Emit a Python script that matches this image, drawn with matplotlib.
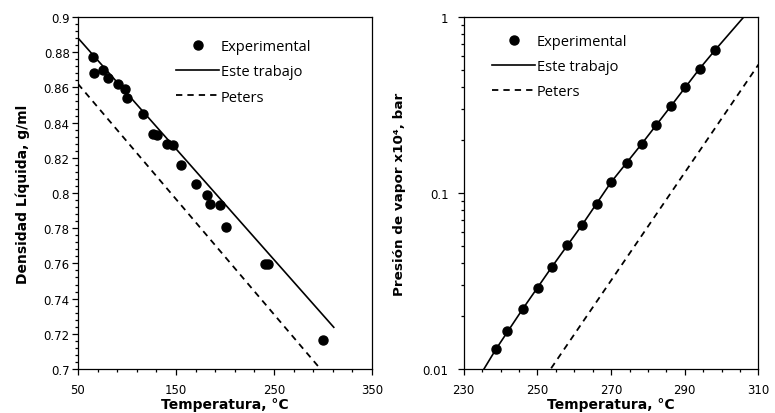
import numpy as np
import matplotlib
matplotlib.use("Agg")
import matplotlib.pyplot as plt
from matplotlib.ticker import MultipleLocator, LogLocator, NullFormatter, FormatStrFormatter

# Densidad liquida vs temperatura
t_dens_exp = [65.3, 66.0, 75.5, 80.2, 90.8, 98.2, 100.3, 115.9, 126.8, 130.2, 140.4,
              147.2, 154.7, 170.3, 181.2, 185.2, 195.4, 201.5, 240.6, 244.0, 300.1]
dens_exp = [0.877, 0.868, 0.870, 0.8655, 0.862, 0.859, 0.854, 0.845, 0.8335, 0.833, 0.828,
            0.827, 0.816, 0.805, 0.799, 0.794, 0.7934, 0.7805, 0.7597, 0.7597, 0.7167]
t_dens_este = [50, 311]
dens_este = [0.8881, 0.7237]
t_dens_peters = [50, 300]
dens_peters = [0.862, 0.6983]

# Presion de vapor vs temperatura
t_pv_exp = [238.8, 241.8, 246.0, 250.1, 254.0, 258.0, 262.1, 266.1, 270.0, 274.3,
            278.3, 282.2, 286.2, 290.1, 294.0, 298.2]
pv_exp = [0.0130, 0.0165, 0.0219, 0.0290, 0.0382, 0.0505, 0.0657, 0.0870, 0.1152, 0.148,
          0.190, 0.243, 0.311, 0.401, 0.508, 0.648]
t_pv_este = [235.5, 238.8, 246.0, 254.0, 262.1, 270.0, 278.3, 286.2, 294.0, 298.2, 306.0, 308.0]
pv_este = [0.0100, 0.0130, 0.0219, 0.0382, 0.0657, 0.1152, 0.190, 0.311, 0.508, 0.648, 1.0, 1.12]
t_pv_peters = [252, 310]
pv_peters = [0.00893, 0.537]

plt.rcParams['font.family'] = 'DejaVu Sans'
fig = plt.figure(figsize=(7.75, 4.14), dpi=100)
ax1 = fig.add_axes([0.1006, 0.1063, 0.3794, 0.8502])
ax2 = fig.add_axes([0.5983, 0.1063, 0.3804, 0.8502])

dash = (0, (3.5, 2.8))
leg_font = {'family': 'Open Sans', 'size': 10.5}

def estilo(ax, ypad):
    for s in ax.spines.values():
        s.set_linewidth(0.9)
    ax.tick_params(which='major', direction='out', length=4, width=0.9, labelsize=8.5)
    ax.tick_params(which='minor', direction='out', length=2.5, width=0.9)
    ax.tick_params(axis='x', which='major', pad=6)
    ax.tick_params(axis='y', which='major', pad=ypad)

# panel izquierdo
ax1.plot(t_dens_exp, dens_exp, 'o', color='black', ms=6.5, label='Experimental')
ax1.plot(t_dens_este, dens_este, '-', color='black', lw=1.2, label='Este trabajo')
ax1.plot(t_dens_peters, dens_peters, linestyle=dash, color='black', lw=1.3, label='Peters')
ax1.set_xlim(50, 350)
ax1.set_ylim(0.7, 0.9)
ax1.set_xticks(np.arange(50, 351, 100))
ax1.set_xticks(np.arange(50, 351, 20), minor=True)
ax1.yaxis.set_major_locator(MultipleLocator(0.02))
ax1.yaxis.set_minor_locator(MultipleLocator(0.004))
ax1.yaxis.set_major_formatter(FormatStrFormatter('%g'))
ax1.set_xlabel('Temperatura, °C', fontsize=10, fontweight='bold', labelpad=1)
ax1.set_ylabel('Densidad Líquida, g/ml', fontsize=10, fontweight='bold', labelpad=10)
estilo(ax1, 2)
ax1.legend(loc='upper left', bbox_to_anchor=(0.334, 0.937), frameon=False, prop=leg_font,
           handlelength=2.95, handletextpad=0.1, labelspacing=0.7, borderpad=0, borderaxespad=0)

# panel derecho
ax2.semilogy(t_pv_exp, pv_exp, 'o', color='black', ms=6.5, label='Experimental')
ax2.semilogy(t_pv_este, pv_este, '-', color='black', lw=1.2, label='Este trabajo')
ax2.semilogy(t_pv_peters, pv_peters, linestyle=dash, color='black', lw=1.3, label='Peters')
ax2.set_xlim(230, 310)
ax2.set_ylim(0.01, 1)
ax2.set_xticks(np.arange(230, 311, 20))
ax2.set_xticks(np.arange(230, 311, 5), minor=True)
ax2.set_yticks([0.01, 0.1, 1], labels=['0.01', '0.1', '1'])
ax2.yaxis.set_minor_locator(LogLocator(base=10, subs=np.arange(2, 10)))
ax2.yaxis.set_minor_formatter(NullFormatter())
ax2.set_xlabel('Temperatura, °C', fontsize=10, fontweight='bold', labelpad=1)
ax2.set_ylabel('Presión de vapor x10⁴, bar', fontsize=9.7, fontweight='bold', labelpad=12)
estilo(ax2, 7)
ax2.legend(loc='upper left', bbox_to_anchor=(0.097, 0.952), frameon=False, prop=leg_font,
           handlelength=2.95, handletextpad=0.1, labelspacing=0.7, borderpad=0, borderaxespad=0)

fig.savefig('out.png', dpi=100)
